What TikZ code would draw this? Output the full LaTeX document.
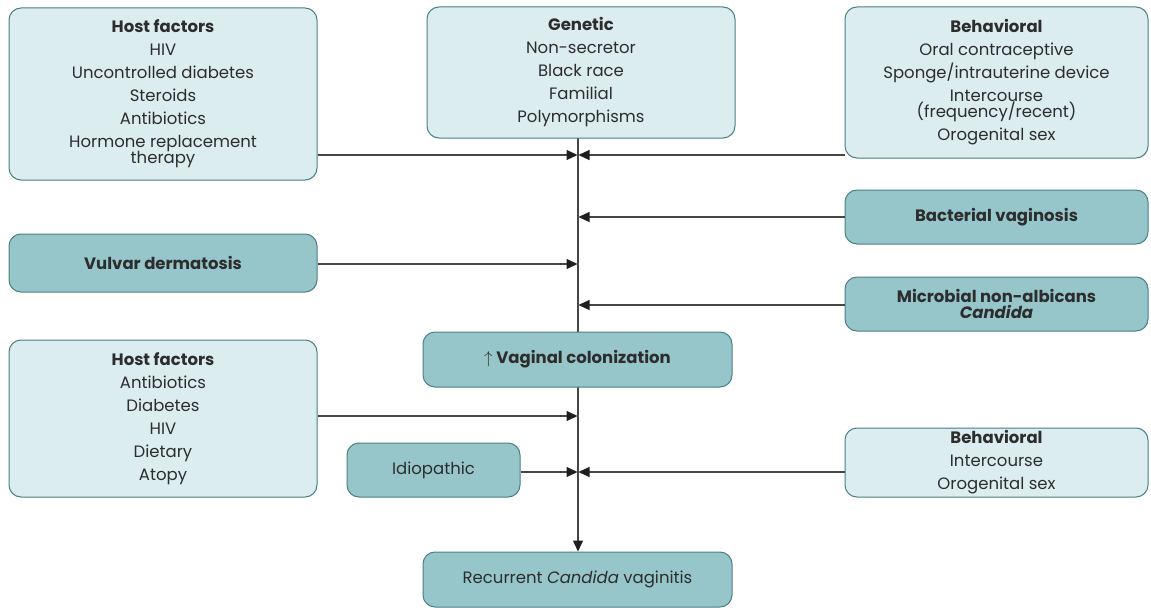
\documentclass[tikz,border=0pt]{standalone}
\usepackage{fontspec}
\setmainfont{Poppins}
\usetikzlibrary{arrows.meta,backgrounds}
\definecolor{lightbox}{RGB}{220,237,239}
\definecolor{darkbox}{RGB}{150,198,202}
\definecolor{boxline}{RGB}{72,128,132}
\definecolor{txt}{RGB}{45,45,45}
\definecolor{conncol}{RGB}{70,70,70}
\definecolor{tipcol}{RGB}{30,30,30}
\newcommand\myboxfont{\fontsize{16.5}{16}\selectfont\lineskiplimit=-20pt\relax}
\begin{document}
\begin{tikzpicture}[x=1pt,y=-1pt,
  box/.style={draw=boxline, line width=1pt, rounded corners=12pt, align=center, text=txt,
    font=\myboxfont, inner sep=0pt},
  light/.style={box, fill=lightbox},
  dark/.style={box, fill=darkbox},
  conn/.style={draw=conncol, line width=1.1pt},
  arr/.style={conn, -{Triangle[length=11pt,width=10pt,color=tipcol,fill=tipcol]}}]
\useasboundingbox (0,0) rectangle (1151,610);

\node[light, minimum width=308pt, minimum height=172pt] (hf1) at (163,94)
  {{\bfseries Host factors}\\[7pt] HIV\\[7pt] Uncontrolled diabetes\\[7pt] Steroids\\[7pt] Antibiotics\\[7pt] Hormone replacement\\ therapy};
\node[light, minimum width=308pt, minimum height=131pt] (gen) at (581,72.5)
  {{\bfseries Genetic}\\[7pt] Non-secretor\\[7pt] Black race\\[7pt] Familial\\[7pt] Polymorphisms};
\node[light, minimum width=303pt, minimum height=151pt] (beh1) at (996.5,82.5)
  {{\bfseries Behavioral}\\[7pt] Oral contraceptive\\[7pt] Sponge/intrauterine device\\[7pt] Intercourse\\ (frequency/recent)\\[7pt] Orogenital sex};
\node[dark, minimum width=303pt, minimum height=54pt] (bv) at (996.5,217)
  {\bfseries Bacterial vaginosis};
\node[dark, minimum width=303pt, minimum height=54pt] (mic) at (996.5,304)
  {\bfseries Microbial non-albicans\\ \bfseries\itshape Candida};
\node[dark, minimum width=308pt, minimum height=58pt] (vd) at (163,263)
  {\bfseries Vulvar dermatosis};
\node[dark, minimum width=309pt, minimum height=55pt] (col) at (577.5,359.5)
  {\bfseries $\uparrow$ Vaginal colonization};
\node[light, minimum width=308pt, minimum height=157pt] (hf2) at (163,418.5)
  {{\bfseries Host factors}\\[7pt] Antibiotics\\[7pt] Diabetes\\[7pt] HIV\\[7pt] Dietary\\[7pt] Atopy};
\node[dark, minimum width=173pt, minimum height=54pt] (idi) at (433.5,470)
  {Idiopathic};
\node[light, minimum width=303pt, minimum height=69pt] (beh2) at (996.5,462.5)
  {{\bfseries Behavioral}\\[7pt] Intercourse\\[7pt] Orogenital sex};
\node[dark, minimum width=309pt, minimum height=55pt] (rec) at (577.5,579.5)
  {Recurrent {\itshape Candida} vaginitis};

\coordinate (s0) at (578,138);
\coordinate (s1) at (578,155);
\coordinate (s2) at (578,217);
\coordinate (s3) at (578,264);
\coordinate (s4) at (578,305);
\coordinate (s5) at (578,416);
\coordinate (s6) at (578,472);

\begin{pgfonlayer}{background}
  \fill[white] (0,0) rectangle (1151,610);
  \draw[arr] (s0) -- (rec.north -| s0);
\end{pgfonlayer}

\draw[arr] (hf1.east |- s1) -- ([xshift=-0.5pt]s1);
\draw[arr] (beh1.west |- s1) -- ([xshift=0.5pt]s1);
\draw[arr] (bv.west |- s2) -- ([xshift=0.5pt]s2);
\draw[arr] (vd.east |- s3) -- ([xshift=-0.5pt]s3);
\draw[arr] (mic.west |- s4) -- ([xshift=0.5pt]s4);
\draw[arr] (hf2.east |- s5) -- ([xshift=-0.5pt]s5);
\draw[arr] (idi.east |- s6) -- ([xshift=-0.5pt]s6);
\draw[arr] (beh2.west |- s6) -- ([xshift=0.5pt]s6);
\end{tikzpicture}
\end{document}
